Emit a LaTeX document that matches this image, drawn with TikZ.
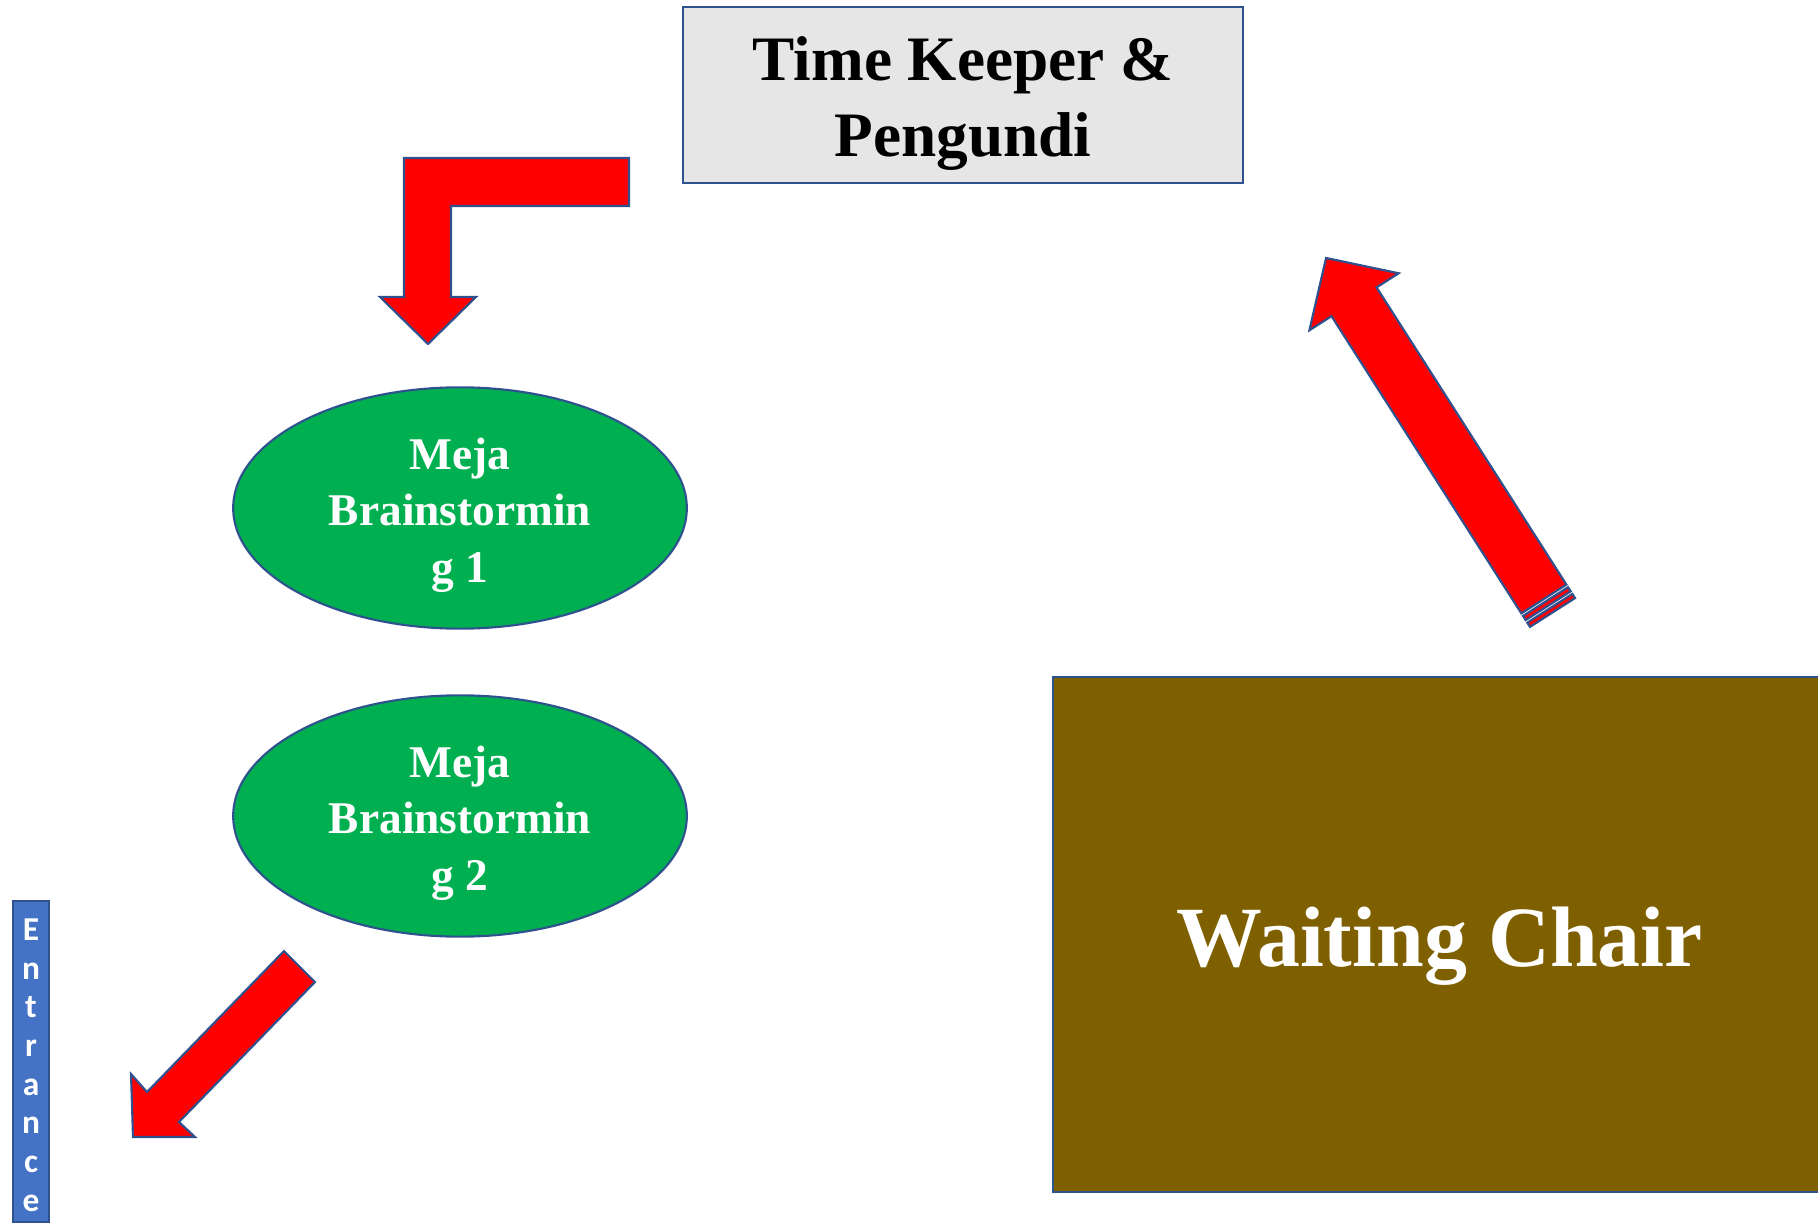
\documentclass[tikz,border=0pt]{standalone}
\usepackage{fontspec}
\setmainfont{Liberation Serif}
\newfontfamily\entfont{Carlito}
\usetikzlibrary{shapes.geometric}
\definecolor{outl}{HTML}{2F528F}
\definecolor{mejagreen}{HTML}{00B050}
\definecolor{keepergray}{HTML}{E7E6E6}
\definecolor{chairbrown}{HTML}{7F6000}
\definecolor{entblue}{HTML}{4472C4}

\begin{document}
\begin{tikzpicture}[x=0.01cm, y=-0.01cm, line width=0.6pt,
    blockarrow/.style = {draw=outl, fill=red, line join=miter},
    meja/.style = {draw=outl, ellipse, fill=mejagreen, inner sep=0pt,
        minimum width=4.534cm, minimum height=2.412cm},
    mejatxt/.style = {text=white, align=center, yshift=-2pt, font=\bfseries\fontsize{12.9}{16}\selectfont},
    keeper/.style = {draw=outl, fill=keepergray, inner sep=0pt, minimum width=5.6cm, minimum height=1.76cm},
    keepertxt/.style = {align=center, yshift=-2.3pt, font=\bfseries\fontsize{18}{21.6}\selectfont},
    chair/.style = {draw=outl, fill=chairbrown, inner sep=0pt, minimum width=7.8cm, minimum height=5.15cm},
    chairtxt/.style = {text=white, yshift=-3.2pt, xshift=-1pt, font=\bfseries\fontsize{24.4}{28}\selectfont},
    entry/.style = {draw=outl, fill=entblue, inner sep=0pt, minimum width=0.36cm, minimum height=3.2cm},
    entrytxt/.style = {text=white, align=center, yshift=-1pt, font=\entfont\bfseries\fontsize{9.5}{11}\selectfont}]
    \useasboundingbox (0,0) rectangle (1818,1225);
    \clip (0,0) rectangle (1818,1225);

    \node[keeper, label={[keepertxt]center:{Time Keeper \&\\Pengundi}}] (keeper) at (963,95) {};
    \node[meja, label={[mejatxt]center:{Meja\\Brainstormin\\g 1}}] (meja1) at (460,508) {};
    \node[meja, label={[mejatxt]center:{Meja\\Brainstormin\\g 2}}] (meja2) at (460,816) {};
    \node[entry, label={[entrytxt]center:{E\\n\\t\\r\\a\\n\\c\\e}}] (entrance) at (31,1061.5) {};
    \node[chair, label={[chairtxt]center:{Waiting Chair}}] (chair) at (1443,934.5) {};

    % bent arrow down to meja 1
    \draw[blockarrow] (629,158) -- (404,158) -- (404,297) -- (380,297) -- (428,344)
        -- (476,297) -- (451,297) -- (451,206) -- (629,206) -- cycle;
    % arrow to the entrance
    \draw[blockarrow] (284,951) -- (315,982) -- (179,1122) -- (195,1137) -- (133,1137)
        -- (131,1074) -- (147,1092) -- cycle;
    % striped arrow up to the time keeper
    \begin{scope}[shift={(1552.5,612.5)}, rotate=122.57]
        \draw[blockarrow] (16,-26.75) -- (368.7,-26.75) -- (368.7,-53) -- (420.7,0)
            -- (368.7,53) -- (368.7,26.75) -- (16,26.75) -- cycle;
        \draw[blockarrow] (0,-26.75) rectangle (5,26.75);
        \draw[blockarrow] (8,-26.75) rectangle (13,26.75);
    \end{scope}
\end{tikzpicture}
\end{document}
